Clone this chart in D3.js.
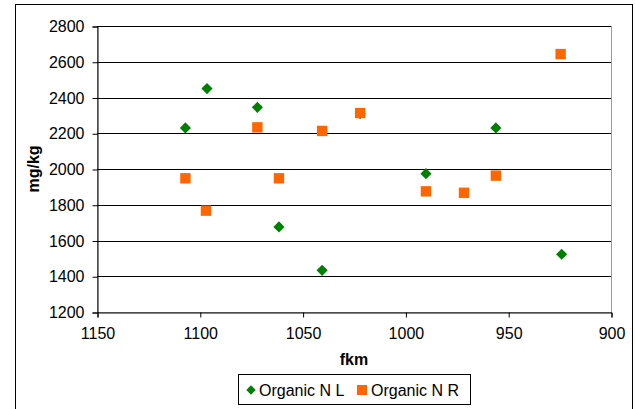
<!DOCTYPE html>
<html>
<head>
<meta charset="utf-8">
<script src="https://cdn.jsdelivr.net/npm/d3@7"></script>
<style>
  body { margin: 0; background: #fff; }
  text { font-family: "Liberation Sans", Arial, sans-serif; }
</style>
</head>
<body>
<script>
// data
var fkmL = [1107, 1096.5, 1072, 1061.5, 1040.5, 1022, 990, 956, 924];
var orgNL = [2230, 2450, 2345, 1676, 1433, 2310, 1974, 2230, 1523];

var fkmR = [1107, 1097, 1072, 1061.5, 1040.5, 1022, 990, 971.5, 956, 924.5];
var orgNR = [1948, 1767, 2233, 1948, 2213, 2313, 1875, 1867, 1963, 2643];

var xTicks = [1150, 1100, 1050, 1000, 950, 900];
var yTicks = [1200, 1400, 1600, 1800, 2000, 2200, 2400, 2600, 2800];

var chart = {
  width: 635,
  height: 409,
  left: 97,
  right: 611,
  top: 26,
  bottom: 312
};

var green = '#008000';
var orange = '#ff6600';

var svg = d3.select('body').append('svg')
  .attr('width', chart.width)
  .attr('height', chart.height);

// outer chart frame (bottom edge falls outside the picture)
svg.append('rect')
  .attr('x', 15.5)
  .attr('y', 4.5)
  .attr('width', 617)
  .attr('height', 420)
  .attr('fill', '#fff')
  .attr('stroke', '#000');

var x = d3.scaleLinear().domain([1150, 900]).range([chart.left, chart.right]);
var y = d3.scaleLinear().domain([1200, 2800]).range([chart.bottom, chart.top]);

// plot area border
svg.append('rect')
  .attr('x', chart.left + 0.5)
  .attr('y', chart.top + 0.5)
  .attr('width', chart.right - chart.left)
  .attr('height', chart.bottom - chart.top)
  .attr('fill', 'none')
  .attr('stroke', '#999');

// gridlines
svg.append('g').selectAll('line')
  .data(yTicks.slice(1))
  .enter().append('line')
  .attr('x1', chart.left)
  .attr('x2', chart.right)
  .attr('y1', function(d) { return Math.round(y(d)) + 0.5; })
  .attr('y2', function(d) { return Math.round(y(d)) + 0.5; })
  .attr('stroke', '#000');

var yAxis = svg.append('g')
  .attr('transform', 'translate(' + (chart.left + 0.5) + ',0.5)')
  .call(d3.axisLeft(y).tickValues(yTicks).tickSize(5).tickPadding(8).tickFormat(d3.format('d')));

var xAxis = svg.append('g')
  .attr('transform', 'translate(0.5,' + (chart.bottom + 0.5) + ')')
  .call(d3.axisBottom(x).tickValues(xTicks).tickSize(5).tickPadding(10).tickFormat(d3.format('d')));

[xAxis, yAxis].forEach(function(ax) {
  ax.select('.domain').attr('stroke', '#000');
  ax.selectAll('line').attr('stroke', '#000');
  ax.selectAll('text')
    .attr('font-size', 16)
    .attr('font-family', '"Liberation Sans", Arial, sans-serif')
    .attr('fill', '#000');
});

// axis titles
svg.append('text')
  .attr('x', (chart.left + chart.right) / 2)
  .attr('y', 365)
  .attr('text-anchor', 'middle')
  .attr('font-size', 16)
  .attr('font-weight', 'bold')
  .text('fkm');

svg.append('text')
  .attr('transform', 'translate(39,' + ((chart.top + chart.bottom) / 2) + ') rotate(-90)')
  .attr('text-anchor', 'middle')
  .attr('font-size', 16)
  .attr('font-weight', 'bold')
  .text('mg/kg');

var diamond = d3.symbol().type(d3.symbolSquare).size(62);
var square = d3.symbol().type(d3.symbolSquare).size(108);

var seriesL = fkmL.map(function(f, i) { return [f, orgNL[i]]; });
var seriesR = fkmR.map(function(f, i) { return [f, orgNR[i]]; });

svg.append('g').selectAll('path')
  .data(seriesL)
  .enter().append('path')
  .attr('d', diamond)
  .attr('transform', function(d) { return 'translate(' + x(d[0]) + ',' + y(d[1]) + ') rotate(45)'; })
  .attr('fill', green);

svg.append('g').selectAll('path')
  .data(seriesR)
  .enter().append('path')
  .attr('d', square)
  .attr('transform', function(d) { return 'translate(' + x(d[0]) + ',' + y(d[1]) + ')'; })
  .attr('fill', orange);

// legend
var legend = svg.append('g');
legend.append('rect')
  .attr('x', 238.5)
  .attr('y', 374.5)
  .attr('width', 232)
  .attr('height', 30)
  .attr('fill', '#fff')
  .attr('stroke', '#000');

legend.append('path')
  .attr('d', d3.symbol().type(d3.symbolSquare).size(44))
  .attr('transform', 'translate(251,390) rotate(45)')
  .attr('fill', green);
legend.append('text')
  .attr('x', 259)
  .attr('y', 395.5)
  .attr('font-size', 16)
  .text('Organic N L');

legend.append('rect')
  .attr('x', 357)
  .attr('y', 385)
  .attr('width', 10)
  .attr('height', 10)
  .attr('fill', orange);
legend.append('text')
  .attr('x', 371)
  .attr('y', 395.5)
  .attr('font-size', 16)
  .text('Organic N R');
</script>
</body>
</html>
